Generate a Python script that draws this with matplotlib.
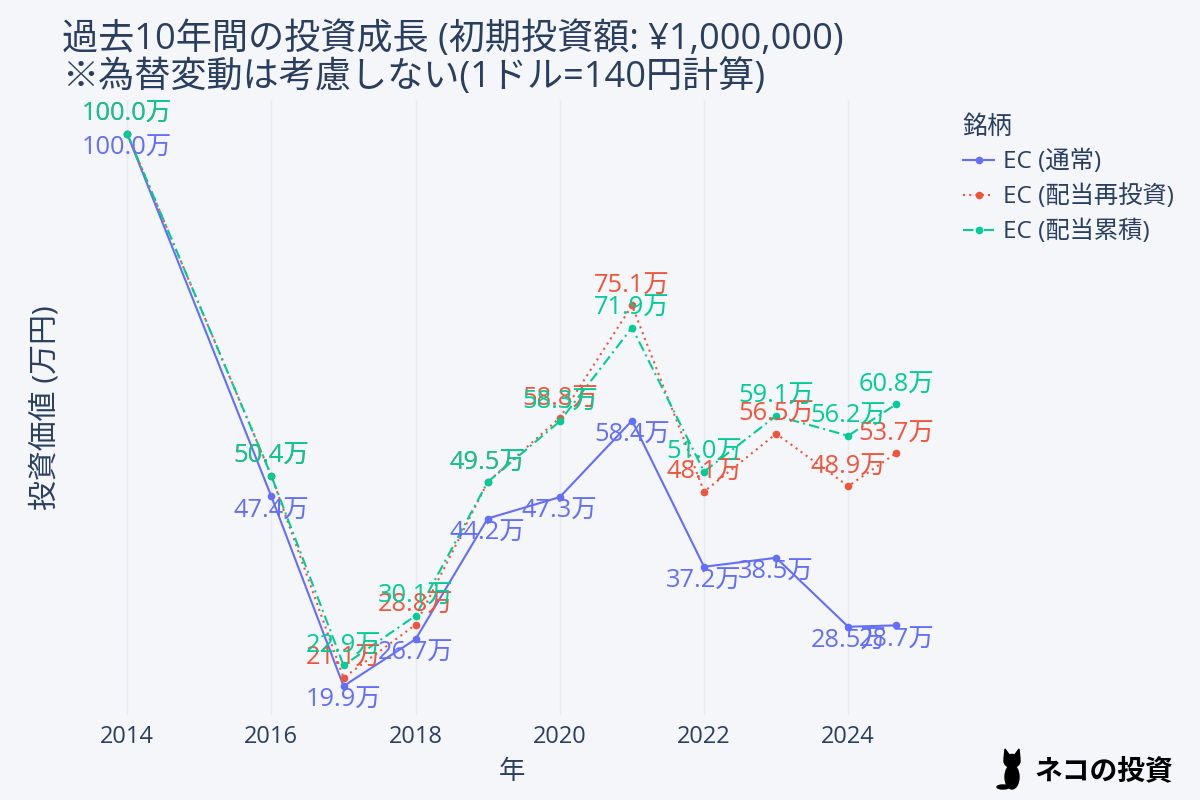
import datetime as dt
import matplotlib
matplotlib.use("Agg")
import matplotlib.pyplot as plt
import matplotlib.dates as mdates
from matplotlib.patches import Ellipse, Polygon

plt.rcParams['font.family'] = ['Open Sans', 'Noto Sans CJK JP', 'DejaVu Sans']

# ---- data ----
dates = ["2014-01-01", "2016-01-01", "2017-01-01", "2018-01-01", "2019-01-01",
         "2020-01-01", "2021-01-01", "2022-01-01", "2023-01-01", "2024-01-01",
         "2024-09-01"]
normal = [100.0, 47.4, 19.9, 26.7, 44.2, 47.3, 58.4, 37.2, 38.5, 28.5, 28.7]
reinvest = [100.0, 50.4, 21.1, 28.8, 49.5, 58.8, 75.1, 48.1, 56.5, 48.9, 53.7]
accum = [100.0, 50.4, 22.9, 30.1, 49.5, 58.3, 71.9, 51.0, 59.1, 56.2, 60.8]
series_names = ["EC (通常)", "EC (配当再投資)", "EC (配当累積)"]
tick_years = [2014, 2016, 2018, 2020, 2022, 2024]

title = "過去10年間の投資成長 (初期投資額: ¥1,000,000)\n※為替変動は考慮しない(1ドル=140円計算)"

BG = "#F4F6FA"
GRID = "#E8EBF1"
TXT = "#2A3F5F"
C_BLUE, C_RED, C_GREEN = "#636EFA", "#EF553B", "#00CC96"

x = [dt.datetime.strptime(d, "%Y-%m-%d") for d in dates]

fig = plt.figure(figsize=(12, 8), dpi=100, facecolor=BG)
ax = fig.add_axes([80/1200, 1-715/800, (943-80)/1200, (715-100)/800], facecolor=BG)

styles = [
    (normal, C_BLUE, "-", "bottom"),
    (reinvest, C_RED, (0, (1, 2)), "top"),
    (accum, C_GREEN, (0, (5, 2, 1, 2)), "top"),
]
for (vals, col, ls, pos), name in zip(styles, series_names):
    ax.plot(x, vals, color=col, linestyle=ls, linewidth=1.5, marker="o",
            markersize=4.5, label=name, zorder=3)
    for xi, v in zip(x, vals):
        dy = 13.7 if pos == "top" else -10.5
        ax.annotate(f"{v:.1f}万", (xi, v), xytext=(0, dy), textcoords="offset points",
                    ha="center", va="center", color=col, fontsize=18.3, zorder=4)

ax.set_xlim(dt.datetime(2013, 5, 7), dt.datetime(2025, 4, 25))
ax.set_ylim(15.7, 104.9)
ax.set_xticks([dt.datetime(y, 1, 1) for y in tick_years])
ax.xaxis.set_major_formatter(mdates.DateFormatter("%Y"))
ax.set_yticks([])
ax.grid(axis="x", color=GRID, linewidth=1)
ax.set_axisbelow(True)
for s in ax.spines.values():
    s.set_visible(False)
ax.tick_params(axis="x", length=0, labelsize=17, labelcolor=TXT, pad=7)
ax.set_xlabel("年", fontsize=19, color=TXT, labelpad=8)
ax.set_ylabel("投資価値 (万円)", fontsize=21.5, color=TXT, labelpad=14)

fig.text(62/1200, 1-59/800, title, fontsize=26, color=TXT, ha="left", va="center",
         linespacing=1.05)

leg = fig.legend(loc="upper left", bbox_to_anchor=(958/1200, 1-110/800), frameon=False,
                 title="銘柄", fontsize=17.5, title_fontsize=18, labelcolor=TXT,
                 handlelength=1.3, handletextpad=0.35, labelspacing=0.42,
                 alignment="left", borderaxespad=0, borderpad=0.2)
leg.get_title().set_color(TXT)

# logo: simple cat silhouette + text
cx, cy = 1012, 772
T = fig.transFigure
fig.patches.append(Ellipse((cx/1200, 1-(cy+5)/800), 14/1200, 24/800, color="black", transform=T))
fig.patches.append(Ellipse((cx/1200, 1-(cy-11)/800), 16/1200, 13/800, color="black", transform=T))
fig.patches.append(Polygon([((cx-8)/1200, 1-(cy-13)/800), ((cx-7)/1200, 1-(cy-23)/800),
                            ((cx-2)/1200, 1-(cy-16)/800)], color="black", transform=T))
fig.patches.append(Polygon([((cx+8)/1200, 1-(cy-13)/800), ((cx+7)/1200, 1-(cy-23)/800),
                            ((cx+2)/1200, 1-(cy-16)/800)], color="black", transform=T))
fig.patches.append(Ellipse(((cx-9)/1200, 1-(cy+15)/800), 12/1200, 4/800, color="black", transform=T))
fig.text(1034/1200, 1-772/800, "ネコの投資", fontsize=20, fontweight="bold", color="black",
         ha="left", va="center")

fig.savefig("out.png", dpi=100, facecolor=BG)
